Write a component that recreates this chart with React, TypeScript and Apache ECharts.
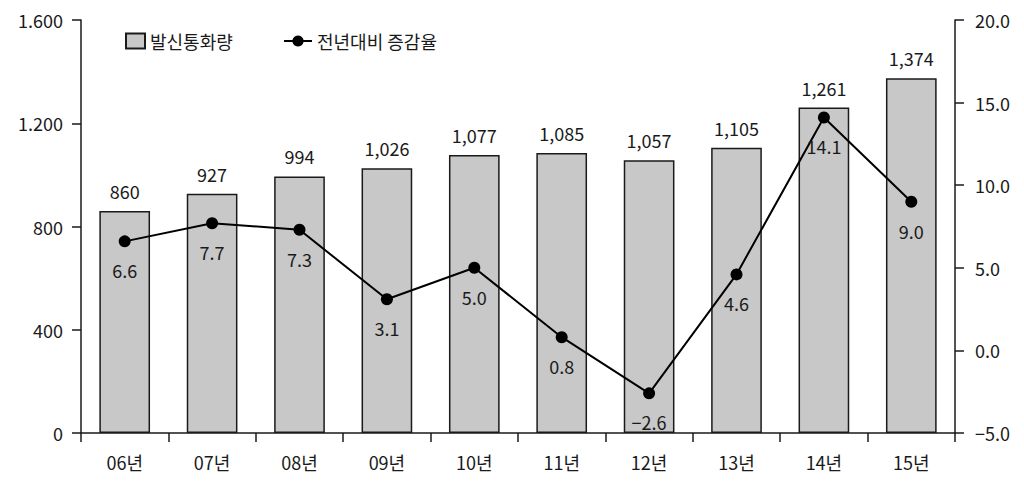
import React, { useEffect, useRef } from "react";
import * as echarts from "echarts";

const categories = ["06년", "07년", "08년", "09년", "10년", "11년", "12년", "13년", "14년", "15년"];
const callVolume = [860, 927, 994, 1026, 1077, 1085, 1057, 1105, 1261, 1374];
const growthRate = [6.6, 7.7, 7.3, 3.1, 5.0, 0.8, -2.6, 4.6, 14.1, 9.0];
const barName = "발신통화량";
const lineName = "전년대비 증감율";

const FONT = "'Noto Sans CJK KR', 'Noto Sans', sans-serif";
const INK = "#1a1a1a";

const fmtLeft = (v: number) =>
  v >= 1000 ? `${Math.floor(v / 1000)}.${String(v % 1000).padStart(3, "0")}` : `${v}`;
const fmtComma = (v: number) =>
  v >= 1000 ? `${Math.floor(v / 1000)},${String(v % 1000).padStart(3, "0")}` : `${v}`;
const fmtRate = (v: number) => v.toFixed(1).replace("-", "\u2212");

export default function App() {
  const ref = useRef<HTMLDivElement>(null);
  useEffect(() => {
    document.body.style.margin = "0";
    if (!ref.current) return;
    const chart = echarts.init(ref.current, undefined, { renderer: "svg" });
    const axisText = { color: INK, fontFamily: FONT, fontSize: 18 };
    chart.setOption({
      animation: false,
      backgroundColor: "#ffffff",
      textStyle: { fontFamily: FONT, color: INK },
      legend: [
        {
          data: [{ name: barName, icon: "rect" }],
          left: 120,
          top: 27,
          itemWidth: 19,
          itemHeight: 15,
          itemGap: 10,
          textStyle: { ...axisText, fontSize: 18 },
        },
        {
          data: [lineName],
          left: 278,
          top: 27,
          itemWidth: 28,
          itemHeight: 14,
          textStyle: { ...axisText, fontSize: 18 },
        },
      ],
      grid: { left: 81, right: 69, top: 20, bottom: 59 },
      xAxis: {
        type: "category",
        data: categories,
        boundaryGap: true,
        axisLine: { lineStyle: { color: INK, width: 1.5 } },
        axisTick: { show: true, length: 9, lineStyle: { color: INK, width: 1.5 } },
        axisLabel: { ...axisText, margin: 20 },
      },
      yAxis: [
        {
          type: "value",
          min: 0,
          max: 1600,
          interval: 400,
          splitLine: { show: false },
          axisLine: { show: true, lineStyle: { color: INK, width: 1.5 } },
          axisTick: { show: true, length: 9, lineStyle: { color: INK, width: 1.5 } },
          axisLabel: { ...axisText, margin: 18, formatter: fmtLeft },
        },
        {
          type: "value",
          position: "right",
          min: -5,
          max: 20,
          interval: 5,
          splitLine: { show: false },
          axisLine: { show: true, lineStyle: { color: INK, width: 1.5 } },
          axisTick: { show: true, length: 9, lineStyle: { color: INK, width: 1.5 } },
          axisLabel: { ...axisText, margin: 20, formatter: fmtRate },
        },
      ],
      series: [
        {
          name: barName,
          type: "bar",
          yAxisIndex: 0,
          data: callVolume,
          barWidth: "58%",
          itemStyle: { color: "#c8c8c8", borderColor: INK, borderWidth: 1.5 },
          label: {
            show: true,
            position: "top",
            distance: 11,
            ...axisText,
            formatter: (p: any) => fmtComma(p.value),
          },
          z: 2,
        },
        {
          name: lineName,
          type: "line",
          yAxisIndex: 1,
          data: growthRate,
          symbol: "circle",
          symbolSize: 12,
          lineStyle: { color: "#000", width: 2 },
          itemStyle: { color: "#000" },
          label: {
            show: true,
            position: "bottom",
            distance: 14,
            ...axisText,
            formatter: (p: any) => fmtRate(p.value),
          },
          z: 5,
        },
      ],
    });
    return () => chart.dispose();
  }, []);
  return <div ref={ref} style={{ width: 1024, height: 492 }} />;
}
